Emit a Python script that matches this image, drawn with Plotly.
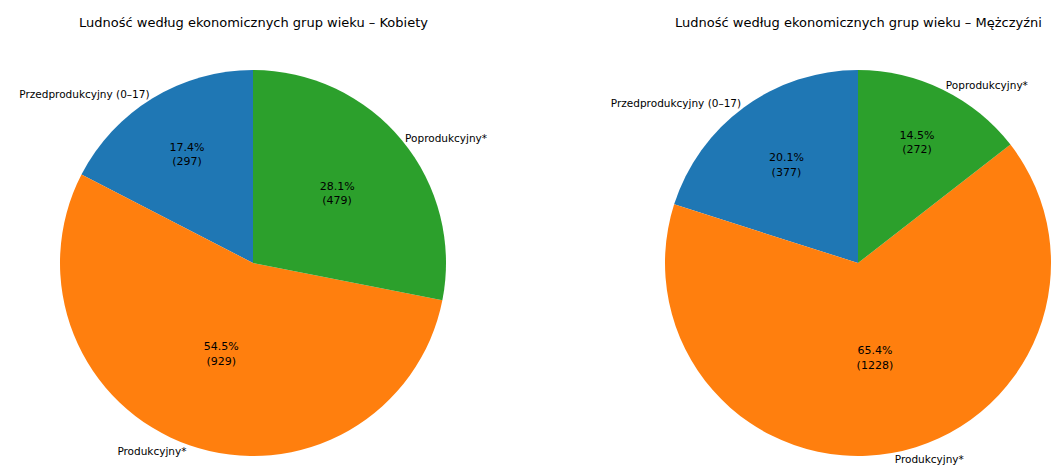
import plotly.graph_objects as go

categories = ["Przedprodukcyjny (0–17)", "Produkcyjny*", "Poprodukcyjny*"]
kobiety = [297, 929, 479]
mezczyzni = [377, 1228, 272]
titles = ["Ludność według ekonomicznych grup wieku – Kobiety",
          "Ludność według ekonomicznych grup wieku – Mężczyźni"]
colors = ["#1f77b4", "#ff7f0e", "#2ca02c"]

# page body has an 8px margin; figure is sized/positioned to compensate
OFF = 8
W, H = 1061 - OFF, 468 - OFF
R = 193
centers = [(253 - OFF, 263 - OFF), (858 - OFF, 263 - OFF)]

fig = go.Figure()
for vals, (cx, cy) in zip([kobiety, mezczyzni], centers):
    dom = dict(x=[(cx - R) / W, (cx + R) / W],
               y=[(H - cy - R) / H, (H - cy + R) / H])
    # plotly's counterclockwise mode places the first slice to the right of
    # 12 o'clock; rotate back so it starts at 12 o'clock going left (matplotlib style)
    rot = -360.0 * vals[0] / sum(vals)
    common = dict(labels=categories, values=vals, sort=False,
                  direction="counterclockwise", rotation=rot,
                  domain=dom, showlegend=False, hoverinfo="skip")
    fig.add_trace(go.Pie(
        marker=dict(colors=colors, line=dict(width=0)),
        texttemplate="%{percent:.1%}<br>(%{value})",
        textposition="inside", insidetextorientation="horizontal",
        textfont=dict(family="DejaVu Sans", size=11, color="black"),
        **common))
    fig.add_trace(go.Pie(
        marker=dict(colors=["rgba(0,0,0,0)"] * 3, line=dict(width=0)),
        texttemplate="%{label}", textposition="outside",
        outsidetextfont=dict(family="DejaVu Sans", size=10.5, color="black"),
        automargin=False, **common))

for t, (cx, cy) in zip(titles, centers):
    fig.add_annotation(text=t, x=cx / W, y=1 - (22 - OFF) / H, xref="paper", yref="paper",
                       showarrow=False, xanchor="center", yanchor="middle",
                       font=dict(family="DejaVu Sans", size=13, color="black"))

fig.update_layout(width=W, height=H, margin=dict(l=0, r=0, t=0, b=0),
                  paper_bgcolor="white", plot_bgcolor="white")
fig.write_html("out.html")
